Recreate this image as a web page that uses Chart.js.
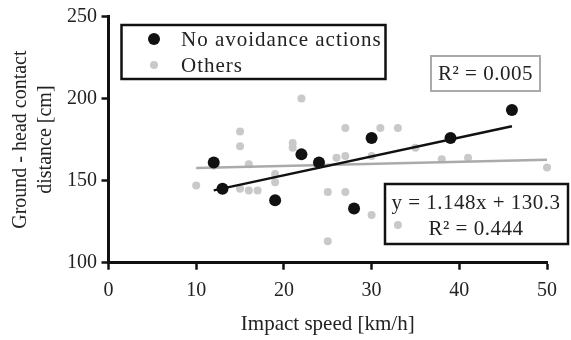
<!DOCTYPE html>
<html>
<head>
<meta charset="utf-8">
<script src="https://cdn.jsdelivr.net/npm/chart.js@4.4.1/dist/chart.umd.min.js"></script>
<style>
  body { margin: 0; background: #fff; }
  #wrap { width: 571px; height: 340px; }
</style>
</head>
<body>
<div id="wrap"><canvas id="myChart" width="571" height="340"></canvas></div>
<script>
const noAvoidSpeed = [12, 13, 19, 22, 24, 28, 30, 39, 46];
const noAvoidDistance = [161, 145, 138, 166, 161, 133, 176, 176, 193];

const otherSpeed = [10, 12, 15, 15, 15, 16, 16, 17, 19, 19, 21, 21, 22, 25, 25, 26, 27, 27, 27, 30, 30, 31, 33, 33, 35, 38, 41, 50];
const otherDistance = [147, 159, 180, 171, 145, 160, 144, 144, 154, 149, 173, 170, 200, 143, 113, 164, 182, 165, 143, 165, 129, 182, 182, 123, 170, 163, 164, 158];

const seriesLabels = ["No avoidance actions", "Others"];
const xTicks = [0, 10, 20, 30, 40, 50];
const yTicks = [100, 150, 200, 250];

// trend lines as printed on the figure
const noAvoidFit = { slope: 1.148, intercept: 130.3, r2: 0.444 };
const otherFit = { slope: 0.125, intercept: 156.4, r2: 0.005 };

const FONT = '"Liberation Serif", "Times New Roman", serif';
const BLACK = "#111111";
const GREY_PT = "#c9c9c9";
const GREY_LINE = "#aaaaaa";
const TEXT = "#222222";

const toPoints = (xs, ys) => xs.map((x, i) => ({ x: x, y: ys[i] }));
const fitLine = (fit, xs) => {
  const lo = Math.min(...xs);
  const hi = Math.max(...xs);
  return [lo, hi].map((x) => ({ x: x, y: fit.slope * x + fit.intercept }));
};

// legend box + equation boxes
const boxes = {
  id: "boxes",
  afterDraw(chart) {
    const ctx = chart.ctx;
    const ds = chart.data.datasets;
    ctx.save();
    ctx.font = "21px " + FONT;
    ctx.textBaseline = "middle";
    ctx.fillStyle = TEXT;

    // legend
    ctx.lineWidth = 2.5;
    ctx.strokeStyle = BLACK;
    ctx.strokeRect(121.5, 25, 264, 54);
    ctx.letterSpacing = "1px";
    const rows = [
      { ds: ds[0], y: 39 },
      { ds: ds[3], y: 65 },
    ];
    rows.forEach((row) => {
      ctx.beginPath();
      ctx.fillStyle = row.ds.backgroundColor;
      ctx.arc(154, row.y, row.ds.pointRadius, 0, Math.PI * 2);
      ctx.fill();
      ctx.fillStyle = TEXT;
      ctx.textAlign = "left";
      ctx.fillText(row.ds.label, 181, row.y + 1);
    });

    // R² for the others
    ctx.letterSpacing = "0.5px";
    ctx.strokeStyle = GREY_LINE;
    ctx.lineWidth = 2;
    ctx.strokeRect(431, 56, 109, 35);
    ctx.textAlign = "center";
    ctx.fillText("R² = " + otherFit.r2.toFixed(3), 485.5, 74);

    // equation for no avoidance
    ctx.strokeStyle = BLACK;
    ctx.lineWidth = 2.5;
    ctx.strokeRect(385, 184, 183, 60);
    ctx.fillText("y = " + noAvoidFit.slope + "x + " + noAvoidFit.intercept, 476, 203);
    ctx.fillText("R² = " + noAvoidFit.r2.toFixed(3), 476, 229);
    ctx.restore();
  },
};

const config = {
  type: "scatter",
  data: {
    datasets: [
      {
        label: seriesLabels[0],
        data: toPoints(noAvoidSpeed, noAvoidDistance),
        backgroundColor: BLACK,
        borderWidth: 0,
        pointRadius: 6,
        clip: false,
      },
      {
        label: "fit-no-avoid",
        data: fitLine(noAvoidFit, noAvoidSpeed),
        showLine: true,
        borderColor: BLACK,
        borderWidth: 2.5,
        pointRadius: 0,
      },
      {
        label: "fit-others",
        data: fitLine(otherFit, otherSpeed),
        showLine: true,
        borderColor: GREY_LINE,
        borderWidth: 2.5,
        pointRadius: 0,
      },
      {
        label: seriesLabels[1],
        data: toPoints(otherSpeed, otherDistance),
        backgroundColor: GREY_PT,
        borderWidth: 0,
        pointRadius: 4,
        clip: false,
      },
    ],
  },
  options: {
    responsive: false,
    animation: false,
    layout: { padding: { top: 14, right: 24, bottom: 0, left: 0 } },
    plugins: {
      legend: { display: false },
      tooltip: { enabled: false },
    },
    scales: {
      x: {
        type: "linear",
        min: xTicks[0],
        max: xTicks[xTicks.length - 1],
        afterBuildTicks: (scale) => {
          scale.ticks = xTicks.map((v) => ({ value: v }));
        },
        afterFit: (scale) => {
          scale.height = 77.3;
        },
        grid: { drawOnChartArea: false, drawTicks: true, tickLength: 7, tickWidth: 2.5, tickColor: BLACK },
        border: { display: true, color: BLACK, width: 3 },
        ticks: { color: TEXT, padding: 9, font: { family: FONT, size: 20 } },
        title: {
          display: true,
          text: "Impact speed [km/h]",
          color: TEXT,
          padding: { top: 0, bottom: 3 },
          font: { family: FONT, size: 21, lineHeight: 1.2 },
        },
      },
      y: {
        type: "linear",
        min: yTicks[0],
        max: yTicks[yTicks.length - 1],
        afterBuildTicks: (scale) => {
          scale.ticks = yTicks.map((v) => ({ value: v }));
        },
        afterFit: (scale) => {
          scale.width = 108.5;
        },
        grid: { drawOnChartArea: false, drawTicks: true, tickLength: 7, tickWidth: 2.5, tickColor: BLACK },
        border: { display: true, color: BLACK, width: 3 },
        ticks: { color: TEXT, padding: 4.5, font: { family: FONT, size: 20 } },
        title: {
          display: true,
          text: ["Ground - head contact", "distance [cm]"],
          color: TEXT,
          padding: { top: 8.5, bottom: 0 },
          font: { family: FONT, size: 20, lineHeight: 1.25 },
        },
      },
    },
  },
  plugins: [boxes],
};

new Chart(document.getElementById("myChart"), config);
</script>
</body>
</html>
